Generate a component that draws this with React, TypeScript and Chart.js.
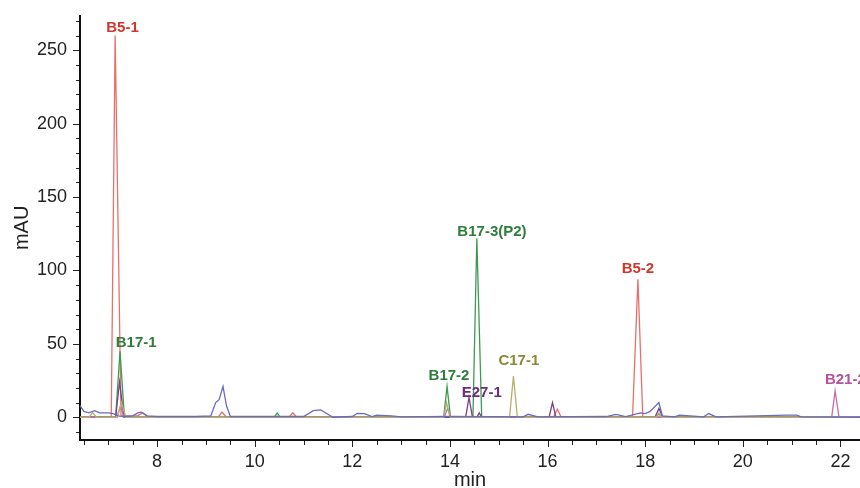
import React, { useEffect, useRef } from "react";
import { Chart, registerables } from "chart.js";

Chart.register(...registerables);

// Retention time (min) / absorbance (mAU) for each trace
const blankTimes = [6.42, 6.5, 6.6, 6.72, 6.82, 7.0, 7.1, 7.2, 7.3, 7.5, 7.6, 7.68, 7.8, 8.0, 8.8, 9.1, 9.2, 9.27, 9.35, 9.42, 9.5, 11.0, 11.2, 11.35, 11.5, 11.6, 12.0, 12.1, 12.25, 12.4, 12.5, 12.8, 13.0, 14.0, 15.5, 15.6, 15.8, 17.2, 17.4, 17.6, 17.9, 18.0, 18.1, 18.22, 18.28, 18.35, 18.6, 18.7, 19.2, 19.3, 19.45, 20.9, 21.1, 21.2, 22.4];
const blankValues = [8, 4, 3, 4.5, 3, 3, 2.5, 1, 0.5, 1, 3, 3.5, 1, 0.5, 0.5, 1, 10, 12, 21, 8, 0.5, 0.5, 4.5, 5, 2, 0, 0.5, 2.7, 2.5, 0.5, 1.5, 1, 0.3, 0.5, 0.3, 2, 0.3, 0.5, 2, 0.5, 3, 2.5, 4, 8, 10, 1, 0.3, 1.5, 0.3, 2.5, 0.3, 1.5, 1.5, 0.3, 0];

const b5Times = [6.42, 7.0, 7.06, 7.14, 7.26, 7.35, 7.6, 7.7, 7.8, 9.25, 9.33, 9.42, 10.7, 10.78, 10.86, 16.12, 16.2, 16.28, 17.74, 17.85, 17.95, 18.05, 22.4];
const b5Values = [0, 0.3, 0, 260, 1.5, 1, 1, 3, 0.3, 0, 3.5, 0, 0, 3, 0, 0, 5.5, 0, 0, 94, 0, 0.3, 0];

const b17Times = [6.42, 7.15, 7.24, 7.33, 10.4, 10.46, 10.52, 13.87, 13.94, 14.01, 14.47, 14.55, 14.65, 18.2, 18.28, 18.36, 22.4];
const b17Values = [0, 0, 45, 0, 0, 3, 0, 0, 21, 0, 0, 122, 0, 0, 2, 0, 0];

const c17Times = [6.42, 6.6, 6.68, 6.76, 7.18, 7.27, 7.36, 13.87, 13.93, 14.0, 15.22, 15.3, 15.38, 18.22, 18.28, 18.34, 22.4];
const c17Values = [0, 0, 3, 0, 0, 10, 0, 0, 10, 0, 0, 28, 0, 0, 3, 0, 0];

const e27Times = [6.42, 7.15, 7.23, 7.32, 14.32, 14.39, 14.46, 14.55, 14.6, 14.65, 16.03, 16.1, 16.17, 18.2, 18.28, 18.36, 22.4];
const e27Values = [0, 0, 24, 0, 0, 13.5, 0, 0, 3, 0, 0, 10, 0, 0, 6, 0, 0];

const b21Times = [6.42, 7.18, 7.25, 7.32, 13.88, 13.95, 14.02, 21.82, 21.89, 21.97, 22.4];
const b21Values = [0, 0, 8, 0, 0, 6, 0, 0, 18, 0, 0];

const peakNames = ["B5-1", "B17-1", "B17-2", "E27-1", "B17-3(P2)", "C17-1", "B5-2", "B21-2"];
const peakLabelTimes = [7.29, 7.57, 13.98, 14.65, 14.86, 15.41, 17.85, 22.1];
const peakLabelValues = [265.5, 51, 28.4, 16.5, 126.5, 38.2, 101, 25.7];
const peakLabelColors = ["#d2352c", "#2e7d3c", "#2e7d3c", "#6e2a7e", "#2e7d3c", "#8c8a38", "#d2352c", "#b5509e"];

const yTickValues = [0, 50, 100, 150, 200, 250];
const xTickValues = [8, 10, 12, 14, 16, 18, 20, 22];

const pts = (t: number[], v: number[]) => t.map((x, i) => ({ x, y: v[i] }));

const FONT = "'Liberation Sans', Arial, Helvetica, sans-serif";

const labelPlugin = {
  id: "peakLabels",
  afterDatasetsDraw(chart: any) {
    const { ctx, scales } = chart;
    ctx.save();
    ctx.font = `bold 15px ${FONT}`;
    ctx.textAlign = "center";
    ctx.textBaseline = "middle";
    peakNames.forEach((name, i) => {
      ctx.fillStyle = peakLabelColors[i];
      ctx.fillText(name, scales.x.getPixelForValue(peakLabelTimes[i]), scales.y.getPixelForValue(peakLabelValues[i]));
    });
    ctx.restore();
  },
};

const tickPlugin = {
  id: "minorTicks",
  afterDraw(chart: any) {
    const { ctx, scales, chartArea } = chart;
    ctx.save();
    ctx.strokeStyle = "#222";
    ctx.lineWidth = 1;
    ctx.beginPath();
    for (let v = -10; v <= 270; v += 10) {
      const y = Math.round(scales.y.getPixelForValue(v)) + 0.5;
      const len = v % 50 === 0 ? 6 : 3;
      ctx.moveTo(chartArea.left - 1, y);
      ctx.lineTo(chartArea.left - 1 - len, y);
    }
    for (let t = 6.5; t <= 22.4; t += 0.5) {
      const x = Math.round(scales.x.getPixelForValue(t)) + 0.5;
      const len = Math.abs(t % 2) < 1e-6 ? 6 : 4;
      ctx.moveTo(x, chartArea.bottom + 1);
      ctx.lineTo(x, chartArea.bottom + 1 + len);
    }
    ctx.stroke();
    ctx.restore();
  },
};

export default function App() {
  const ref = useRef<HTMLCanvasElement>(null);
  useEffect(() => {
    document.body.style.margin = "0";
    const line = (data: any, color: string) => ({
      data,
      borderColor: color,
      borderWidth: 1.3,
      pointRadius: 0,
      tension: 0,
      fill: false,
    });
    const chart = new Chart(ref.current!, {
      type: "line",
      data: {
        datasets: [
          line(pts(blankTimes, blankValues), "#6b6bbf"),
          line(pts(c17Times, c17Values), "#b5b070"),
          line(pts(b21Times, b21Values), "#c070b0"),
          line(pts(e27Times, e27Values), "#7b3f8c"),
          line(pts(b17Times, b17Values), "#3d9a50"),
          line(pts(b5Times, b5Values), "#e8706a"),
        ],
      },
      options: {
        animation: false,
        responsive: false,
        layout: { padding: { top: 2, right: 0, left: 0, bottom: 0 } },
        plugins: { legend: { display: false }, tooltip: { enabled: false } },
        scales: {
          x: {
            type: "linear",
            min: 6.42,
            max: 22.4,
            afterBuildTicks: (s: any) => {
              s.ticks = xTickValues.map((value) => ({ value }));
            },
            afterFit: (s: any) => {
              s.height = 48;
            },
            grid: { display: false },
            border: { display: true, color: "#111", width: 2 },
            ticks: { color: "#222", font: { size: 18, family: FONT }, padding: 3, maxRotation: 0, autoSkip: false, callback: (v: any) => String(v) },
            title: { display: true, text: "min", color: "#222", font: { size: 20, family: FONT, lineHeight: 0.8 }, padding: { top: 0, bottom: 0 } },
          },
          y: {
            min: -15.5,
            max: 273.5,
            afterBuildTicks: (s: any) => {
              s.ticks = yTickValues.map((value) => ({ value }));
            },
            afterFit: (s: any) => {
              s.width = 80;
            },
            grid: { display: false },
            border: { display: true, color: "#111", width: 2 },
            ticks: { color: "#222", font: { size: 18, family: FONT }, padding: 5, autoSkip: false, callback: (v: any) => String(v) },
            title: { display: true, text: "mAU", color: "#222", font: { size: 20, family: FONT, lineHeight: 1 }, padding: { top: 12, bottom: 0 } },
          },
        },
      },
      plugins: [labelPlugin, tickPlugin],
    } as any);
    return () => chart.destroy();
  }, []);
  return (
    <div style={{ width: 860, height: 488 }}>
      <canvas ref={ref} width={860} height={488} style={{ display: "block" }} />
    </div>
  );
}
